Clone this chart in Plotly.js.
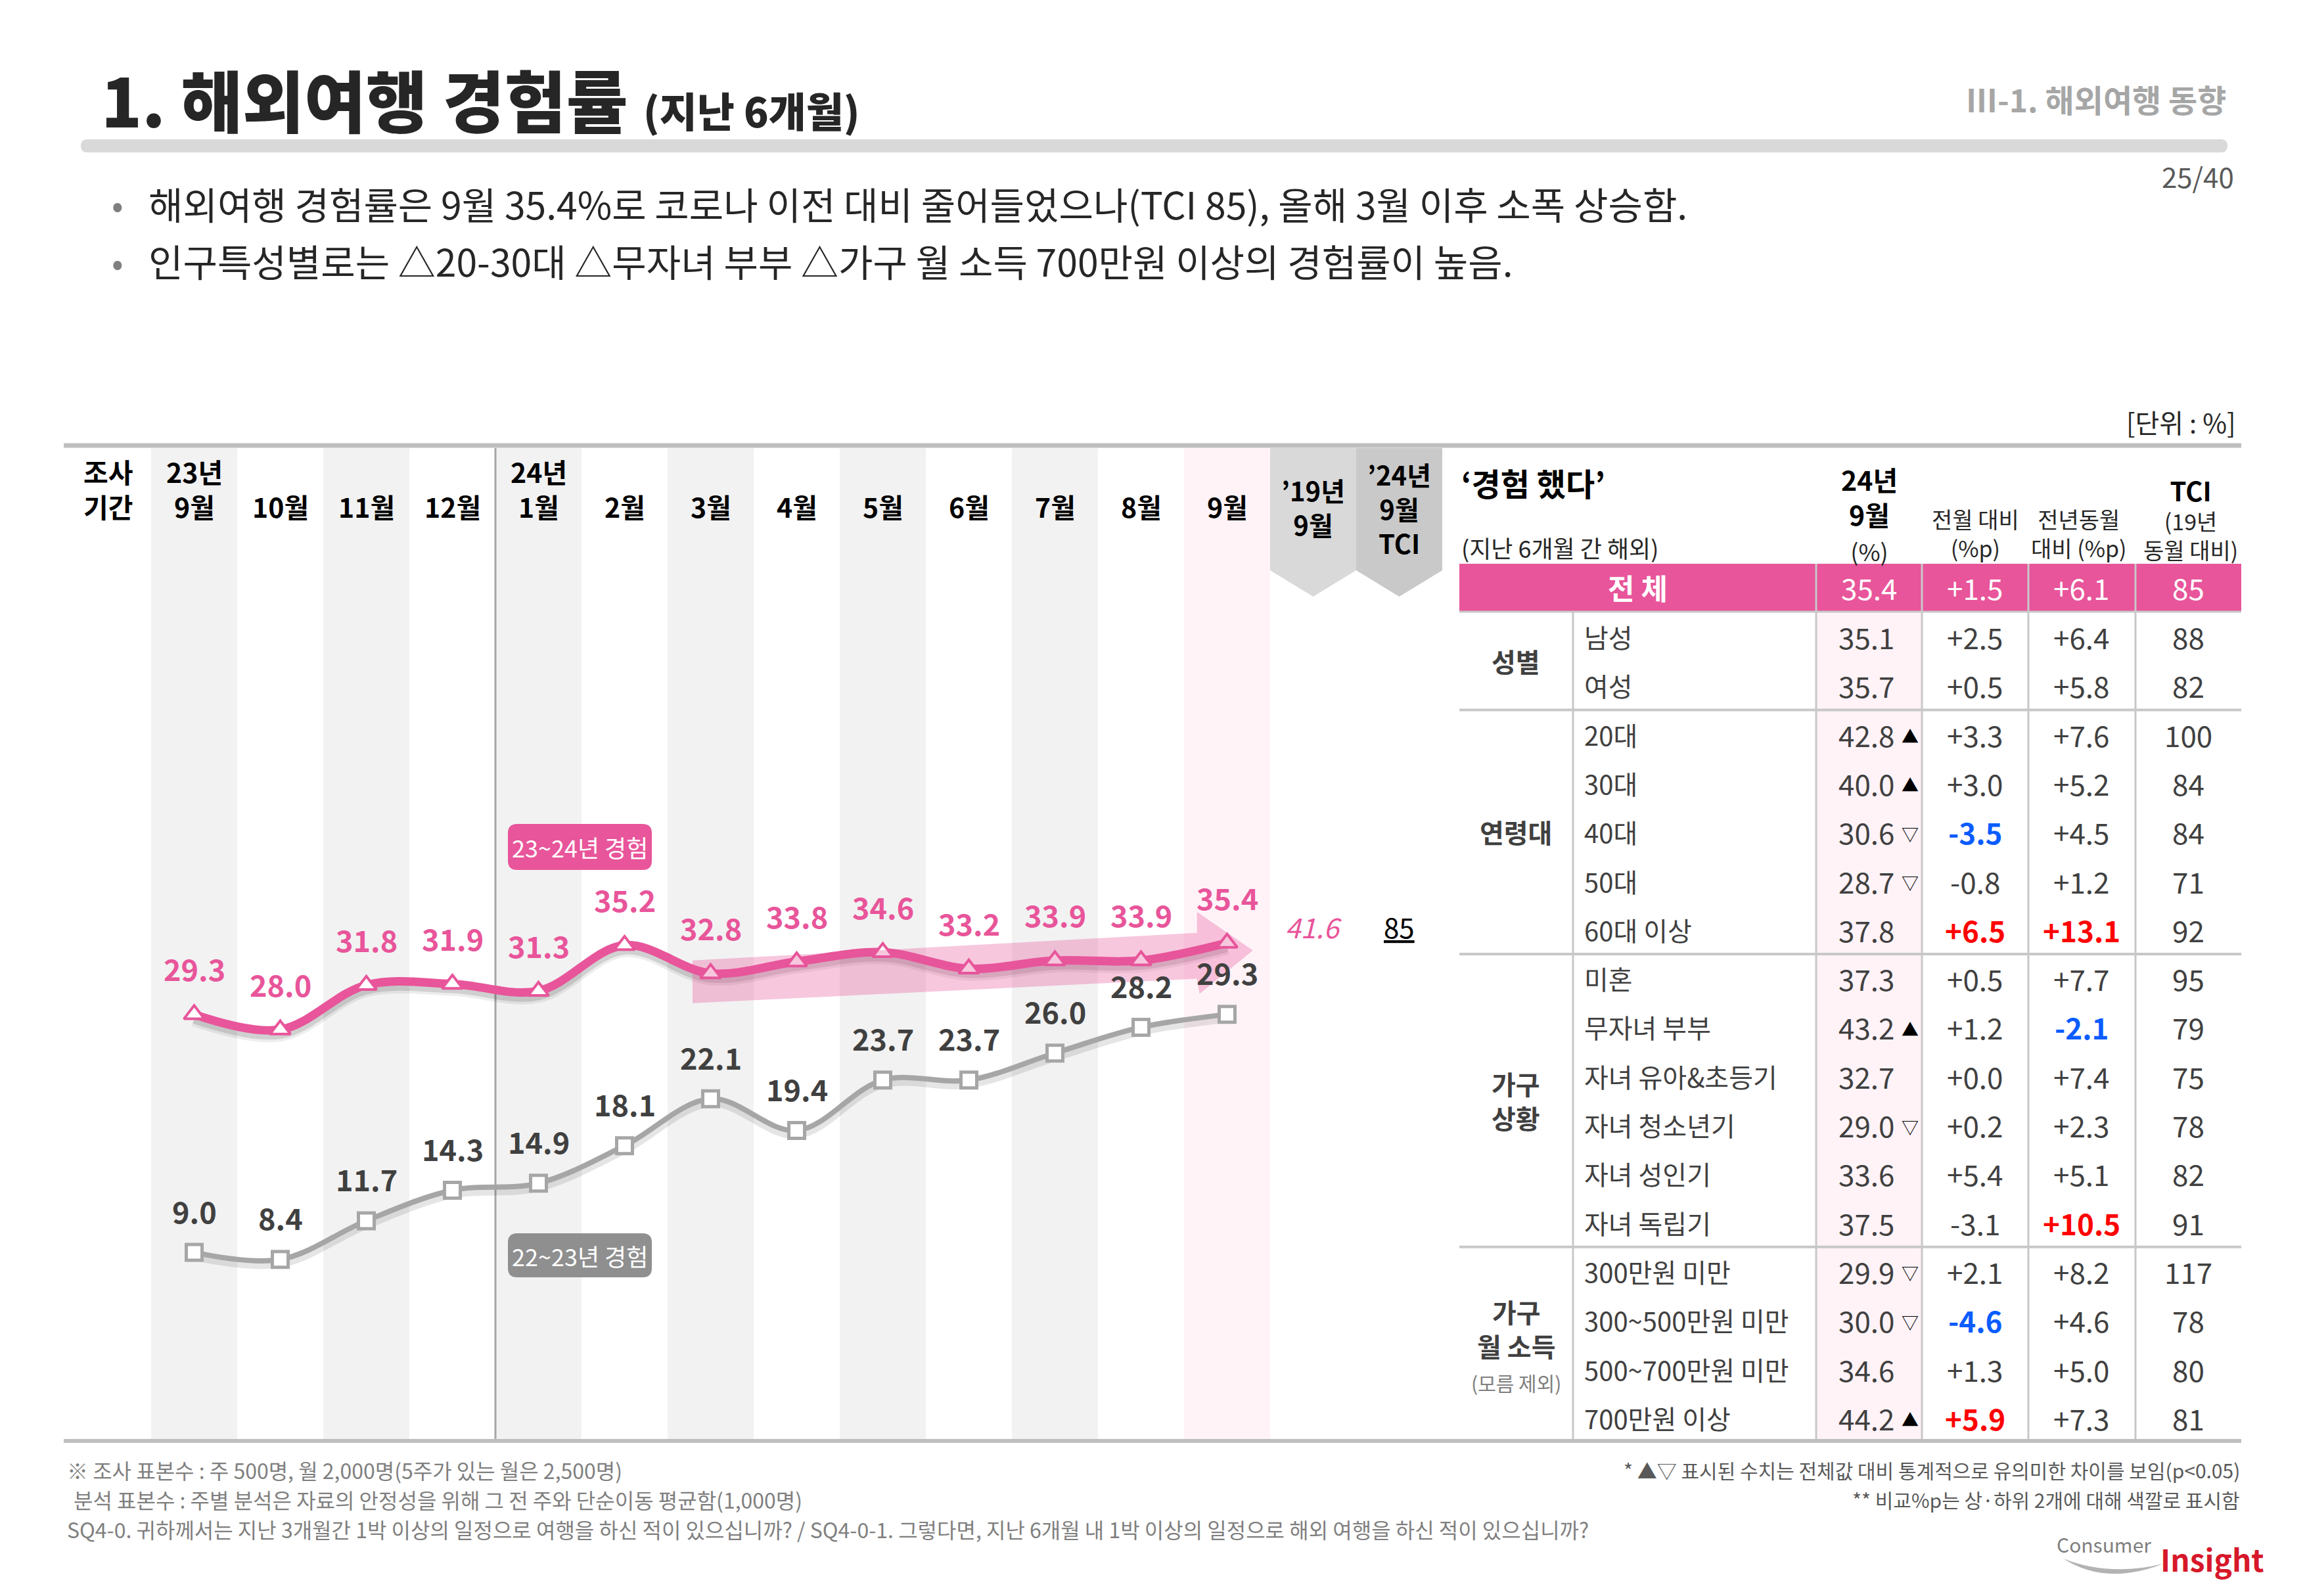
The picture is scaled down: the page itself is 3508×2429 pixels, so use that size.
<!DOCTYPE html>
<html><head><meta charset="utf-8">
<script src="https://cdn.plot.ly/plotly-3.0.1.min.js"></script>
<style>html,body{margin:0;padding:0;background:#fff;}#chart{width:3508px;height:2429px;}</style>
</head><body><div id="chart"></div>
<script>
// ---------------- DATA ----------------
const months = ['9월','10월','11월','12월','1월','2월','3월','4월','5월','6월','7월','8월','9월'];
const yearTags = ['23년','','','','24년','','','','','','','',''];
const exp2324 = [29.3,28.0,31.8,31.9,31.3,35.2,32.8,33.8,34.6,33.2,33.9,33.9,35.4];
const exp2223 = [9.0,8.4,11.7,14.3,14.9,18.1,22.1,19.4,23.7,23.7,26.0,28.2,29.3];
const rate2019Label = '41.6';
const tciTotalLabel = '85';
const totalRow = ['전 체','35.4','+1.5','+6.1','85'];
const groupLines = [['성별'],['연령대'],['가구','상황'],['가구','월 소득']];
const groupNotes = ['','','','(모름 제외)'];
const groupSizes = [2,5,6,4];
const rowLabels = ['남성','여성','20대','30대','40대','50대','60대 이상','미혼','무자녀 부부','자녀 유아&초등기','자녀 청소년기','자녀 성인기','자녀 독립기','300만원 미만','300~500만원 미만','500~700만원 미만','700만원 이상'];
const rate = [35.1,35.7,42.8,40.0,30.6,28.7,37.8,37.3,43.2,32.7,29.0,33.6,37.5,29.9,30.0,34.6,44.2];
const sig = ['','','▲','▲','▽','▽','','','▲','','▽','','','▽','▽','','▲'];
const momDiff = [2.5,0.5,3.3,3.0,-3.5,-0.8,6.5,0.5,1.2,0.0,0.2,5.4,-3.1,2.1,-4.6,1.3,5.9];
const yoyDiff = [6.4,5.8,7.6,5.2,4.5,1.2,13.1,7.7,-2.1,7.4,2.3,5.1,10.5,8.2,4.6,5.0,7.3];
const tciRow = [88,82,100,84,84,71,92,95,79,75,78,82,91,117,78,80,81];

// ---------------- STYLE / LAYOUT HELPERS ----------------
const W=3508, H=2429;
const KR='"Noto Sans CJK KR", "Noto Sans", sans-serif';
const NUM=KR;
const PINK='#e8559a', GRAYLINE='#a6a6a6', TXT='#404040';
const X=p=>p/W, Y=p=>1-p/H;
const shapes=[], anns=[];
function T(text,x,y,size,color,o){ o=o||{};
  return {text:text, x:(o.xref==='x'?x:X(x)), y:Y(y), xref:o.xref||'paper', yref:'paper',
    xanchor:o.anchor||'center', yanchor:'middle', align:o.align||'center', showarrow:false,
    font:{family:o.family||KR, size:size, color:color, weight:o.weight||'normal', style:o.style||'normal'}};
}
function hline(x0,x1,y,color,w){ shapes.push({type:'line',xref:'paper',yref:'paper',x0:X(x0),x1:X(x1),y0:Y(y),y1:Y(y),line:{color:color,width:w},layer:'below'}); }
function vline(x,y0,y1,color,w){ shapes.push({type:'line',xref:'paper',yref:'paper',x0:X(x),x1:X(x),y0:Y(y0),y1:Y(y1),line:{color:color,width:w},layer:'below'}); }
function rectP(x0,y0,x1,y1,fill){ shapes.push({type:'rect',xref:'paper',yref:'paper',x0:X(x0),x1:X(x1),y0:Y(y1),y1:Y(y0),fillcolor:fill,line:{width:0},layer:'below'}); }
function rrect(x0,y0,x1,y1,r,fill){
  const p=(x,y)=>X(x)+','+Y(y);
  const d=`M${p(x0+r,y0)} L${p(x1-r,y0)} Q${p(x1,y0)} ${p(x1,y0+r)} L${p(x1,y1-r)} Q${p(x1,y1)} ${p(x1-r,y1)} L${p(x0+r,y1)} Q${p(x0,y1)} ${p(x0,y1-r)} L${p(x0,y0+r)} Q${p(x0,y0)} ${p(x0+r,y0)} Z`;
  shapes.push({type:'path',xref:'paper',yref:'paper',path:d,fillcolor:fill,line:{width:0},layer:'below'});
}

// ---------------- PAGE HEADER ----------------
anns.push(T('1. 해외여행 경험률 <span style="font-size:62px">(지난 6개월)</span>',152,150,102,'#262626',{anchor:'left',weight:900}));
anns.push(T('Ⅲ-1. 해외여행 동향',3390,150,48,'#a6a6a6',{anchor:'right',weight:'bold'}));
rrect(123,212,3390,232,10,'#d9d9d9');
anns.push(T('25/40',3402,267,42,'#595959',{anchor:'right'}));
anns.push(T('•',168,309,52,'#7f7f7f',{anchor:'left'}));
anns.push(T('•',168,396,52,'#7f7f7f',{anchor:'left'}));
anns.push(T('해외여행 경험률은 9월 35.4%로 코로나 이전 대비 줄어들었으나(TCI 85), 올해 3월 이후 소폭 상승함.',224,309,57,'#262626',{anchor:'left'}));
anns.push(T('인구특성별로는 △20-30대 △무자녀 부부 △가구 월 소득 700만원 이상의 경험률이 높음.',224,396,57,'#262626',{anchor:'left'}));
anns.push(T('[단위 : %]',3405,642,40,'#262626',{anchor:'right'}));

// ---------------- CHART DECORATION ----------------
months.forEach((m,i)=>{
  const c = i===12 ? '#fff3f8' : (i%2===0 ? '#f2f2f2' : null);
  if(c) shapes.push({type:'rect',xref:'x',yref:'paper',x0:i-0.5,x1:i+0.5,y0:Y(2190),y1:Y(682),fillcolor:c,line:{width:0},layer:'below'});
});
function pent(a,b,color){
  shapes.push({type:'path',xref:'x',yref:'paper',
    path:`M${a},${Y(682)} L${b},${Y(682)} L${b},${Y(868)} L${(a+b)/2},${Y(908)} L${a},${Y(868)} Z`,
    fillcolor:color,line:{width:0},layer:'below'});
}
pent(12.5,13.5,'#d9d9d9');
pent(13.5,14.5,'#c9c9c9');
shapes.push({type:'line',xref:'x',yref:'paper',x0:3.5,x1:3.5,y0:Y(2190),y1:Y(682),line:{color:'#a6a6a6',width:3},layer:'below'});

// header labels of the chart (multi-line labels kept in one text)
anns.push(T('조사<br>기간',-1,743,41,'#000',{xref:'x',weight:'bold'}));
months.forEach((m,i)=>{
  if(yearTags[i]) anns.push(T(yearTags[i]+'<br>'+m,i,743,41,'#000',{xref:'x',weight:'bold'}));
  else anns.push(T(m,i,770,41,'#000',{xref:'x',weight:'bold'}));
});
anns.push(T('’19년<br>9월',13,772,40,'#000',{xref:'x',weight:'bold'}));
anns.push(T('’24년<br>9월<br>TCI',14,774,40,'#000',{xref:'x',weight:'bold'}));

// callout boxes
rrect(773,1254,992,1324,14,PINK);
anns.push(T('23~24년 경험',882,1289,36,'#fff'));
rrect(773,1877,992,1944,14,'#8f8f8f');
anns.push(T('22~23년 경험',882,1911,36,'#fff'));

// 2019 reference + TCI
anns.push(T(rate2019Label,13,1409,42,PINK,{xref:'x',style:'italic'}));
anns.push(T('<u>'+tciTotalLabel+'</u>',14,1409,42,'#000',{xref:'x'}));

// trend arrow (decoration, data-axis coordinates)
shapes.push({type:'path',xref:'x',yref:'y2',layer:'above',opacity:0.33,fillcolor:PINK,line:{width:0},
  path:'M5.79,33.9 L11.65,36.26 L11.65,38.05 L12.3,34.75 L11.68,31.05 L11.65,32.34 L5.79,30.26 Z'});

// data labels
exp2324.forEach((v,i)=>anns.push({text:v.toFixed(1),x:i,y:v,xref:'x',yref:'y2',yshift:70,showarrow:false,
  font:{family:NUM,size:45,color:PINK,weight:'bold'}}));
exp2223.forEach((v,i)=>anns.push({text:v.toFixed(1),x:i,y:v,xref:'x',yref:'y2',yshift:64,showarrow:false,
  font:{family:NUM,size:45,color:TXT,weight:'bold'}}));

// ---------------- TABLE ----------------
const TL=2221, TR=3411, C0=2394, CV=[2764,2925,3087,3250];
const colC=[2845,3006,3168,3330];
const rowY=r=>969+74.3*r;
rectP(CV[0],932,CV[1],2192,'#fff3f8');
rectP(TL,858,TR,930,PINK);
hline(TL,TR,931,'#c8c8c8',3);
vline(C0,932,2192,'#c8c8c8',3);
CV.forEach(x=>vline(x,858,2192,'#c8c8c8',3));
let acc=0;
groupSizes.forEach((n,g)=>{
  if(g>0) hline(TL,TR,rowY(acc-0.5),'#c8c8c8',4);
  const ctr=rowY(acc+(n-1)/2);
  let txt=groupLines[g].map(s=>'<b>'+s+'</b>').join('<br>');
  if(groupNotes[g]) txt+='<br><span style="font-size:30px;color:#7f7f7f">'+groupNotes[g]+'</span>';
  anns.push(T(txt,2307,ctr,40,TXT));
  acc+=n;
});
// top & bottom rules across chart + table
hline(97,TR,678,'#bfbfbf',7);
hline(97,TR,2193,'#bfbfbf',6);

// header
anns.push(T('‘경험 했다’',2222,734,48,'#000',{anchor:'left',weight:'bold'}));
anns.push(T('(지난 6개월 간 해외)',2222,833,36,'#262626',{anchor:'left'}));
anns.push(T('<b>24년</b><br><b>9월</b><br><span style="font-size:36px;color:#262626">(%)</span>',colC[0],782,41,'#000'));
anns.push(T('전월 대비<br>(%p)',colC[1],811,34,'#262626'));
anns.push(T('전년동월<br>대비 (%p)',colC[2]-4,811,34,'#262626'));
anns.push(T('<span style="font-size:40px;color:#000"><b>TCI</b></span><br>(19년<br>동월 대비)',colC[3]+4,789,34,'#262626'));
// total row
anns.push(T(totalRow[0],(TL+CV[0])/2,894,44,'#fff',{weight:'bold'}));
for(let k=1;k<5;k++) anns.push(T(totalRow[k],colC[k-1],894,44,'#fff'));

// body
function hiColors(arr){
  const s=[...arr].sort((a,b)=>b-a), top=s.slice(0,2), bot=s.slice(-2);
  return arr.map(v=>top.includes(v)?'#ff0000':((bot.includes(v)&&v<0)?'#0a5cff':null));
}
const fmt=v=>(v>=0?'+':'')+v.toFixed(1);
const momC=hiColors(momDiff), yoyC=hiColors(yoyDiff);
rowLabels.forEach((lab,r)=>{
  const y=rowY(r);
  anns.push(T(lab,2409,y,40,TXT,{anchor:'left'}));
  anns.push(T(rate[r].toFixed(1),colC[0]-4,y,44,TXT));
  if(sig[r]) anns.push(T(sig[r],2907,y+2,26,'#000'));
  anns.push(T(fmt(momDiff[r]),colC[1],y,44,momC[r]||TXT,{weight:momC[r]?'bold':'normal'}));
  anns.push(T(fmt(yoyDiff[r]),colC[2],y,44,yoyC[r]||TXT,{weight:yoyC[r]?'bold':'normal'}));
  anns.push(T(String(tciRow[r]),colC[3],y,44,TXT));
});

// ---------------- FOOTNOTES ----------------
anns.push(T('※ 조사 표본수 : 주 500명, 월 2,000명(5주가 있는 월은 2,500명)',100,2237,32,'#7f7f7f',{anchor:'left'}));
anns.push(T('분석 표본수 : 주별 분석은 자료의 안정성을 위해 그 전 주와 단순이동 평균함(1,000명)',110,2282,32,'#7f7f7f',{anchor:'left'}));
anns.push(T('SQ4-0. 귀하께서는 지난 3개월간 1박 이상의 일정으로 여행을 하신 적이 있으십니까? / SQ4-0-1. 그렇다면, 지난 6개월 내 1박 이상의 일정으로 해외 여행을 하신 적이 있으십니까?',100,2327,32,'#7f7f7f',{anchor:'left'}));
anns.push(T('* ▲▽ 표시된 수치는 전체값 대비 통계적으로 유의미한 차이를 보임(p&lt;0.05)',3411,2237,30,'#595959',{anchor:'right'}));
anns.push(T('** 비교%p는 상·하위 2개에 대해 색깔로 표시함',3411,2282,30,'#595959',{anchor:'right'}));
// logo
shapes.push({type:'path',xref:'paper',yref:'paper',fillcolor:'#b3b3b3',line:{width:0},layer:'below',
  path:`M${X(3140)},${Y(2372)} Q${X(3205)},${Y(2414)} ${X(3292)},${Y(2380)} Q${X(3210)},${Y(2400)} ${X(3140)},${Y(2372)} Z`});
anns.push(T('Consumer',3128,2350,30,'#7f7f7f',{anchor:'left'}));
anns.push(T('Insight',3286,2372,46,'#d7182a',{anchor:'left',weight:'bold'}));

// ---------------- TRACES ----------------
const xs=months.map((m,i)=>i);
const traces=[
  {x:xs,y:exp2223,xaxis:'x',yaxis:'y',mode:'lines',line:{color:'rgba(0,0,0,0.10)',width:11,shape:'spline',smoothing:1},hoverinfo:'skip'},
  {x:xs,y:exp2324,xaxis:'x',yaxis:'y',mode:'lines',line:{color:'rgba(0,0,0,0.07)',width:22,shape:'spline',smoothing:1},hoverinfo:'skip'},
  {x:xs,y:exp2324,xaxis:'x',yaxis:'y',mode:'lines',line:{color:'rgba(0,0,0,0.12)',width:14,shape:'spline',smoothing:1},hoverinfo:'skip'},
  {x:xs,y:exp2223,xaxis:'x',yaxis:'y2',mode:'lines+markers',name:'22~23년 경험',
    line:{color:GRAYLINE,width:8,shape:'spline',smoothing:1},
    marker:{symbol:'square',size:24,color:'#fff',line:{color:GRAYLINE,width:5}},cliponaxis:false},
  {x:xs,y:exp2324,xaxis:'x',yaxis:'y2',mode:'lines+markers',name:'23~24년 경험',
    line:{color:PINK,width:13,shape:'spline',smoothing:1},
    marker:{symbol:'triangle-up',size:27,color:'#fff',line:{color:PINK,width:4}},cliponaxis:false}
];
const yLo=-6.8, yHi=77.6, sh=0.4;
const layout={
  width:W,height:H,margin:{l:0,r:0,t:0,b:0,pad:0},
  paper_bgcolor:'#fff',plot_bgcolor:'rgba(0,0,0,0)',showlegend:false,
  font:{family:KR,color:TXT},
  xaxis:{domain:[99/W,2195/W],range:[-1.5,14.5],visible:false,fixedrange:true},
  yaxis:{domain:[1-2188/H,1-682/H],range:[yLo+sh,yHi+sh],visible:false,fixedrange:true},
  yaxis2:{overlaying:'y',range:[yLo,yHi],visible:false,fixedrange:true},
  shapes:shapes,annotations:anns
};
Plotly.newPlot('chart',traces,layout,{staticPlot:true,displayModeBar:false});
</script></body></html>
